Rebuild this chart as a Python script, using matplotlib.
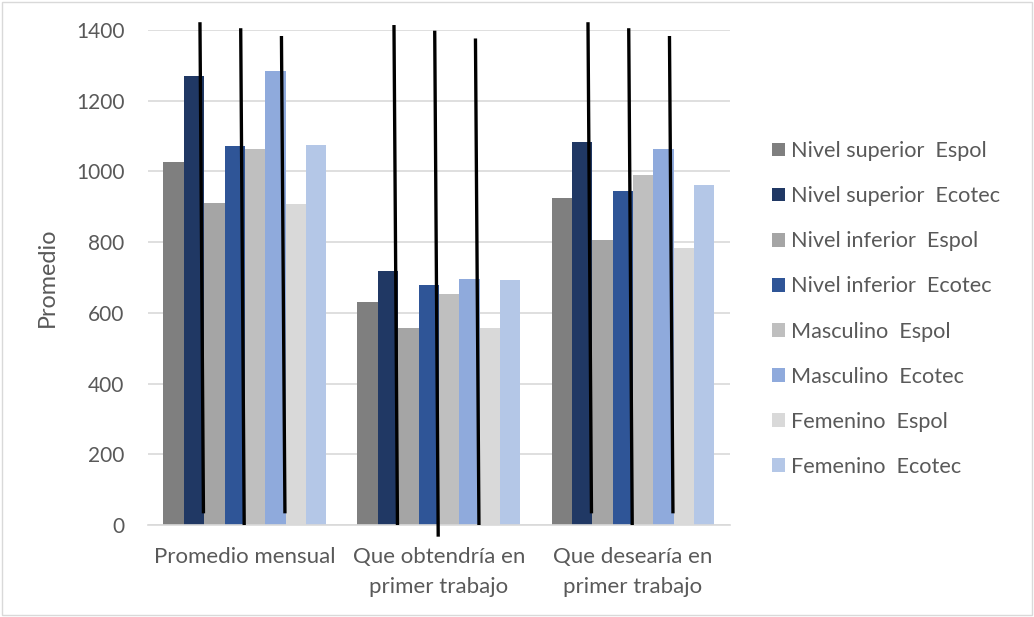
import numpy as np
import matplotlib
matplotlib.use("Agg")
from matplotlib import pyplot as plt
from matplotlib.patches import Rectangle

plt.rcParams['font.family'] = ['Lato', 'DejaVu Sans']

categories = ["Promedio mensual", "Que obtendría en\nprimer trabajo", "Que desearía en\nprimer trabajo"]

series_names = ["Nivel superior  Espol", "Nivel superior  Ecotec",
                "Nivel inferior  Espol", "Nivel inferior  Ecotec",
                "Masculino  Espol", "Masculino  Ecotec",
                "Femenino  Espol", "Femenino  Ecotec"]

nivel_sup_espol = [1027, 630, 924]
nivel_sup_ecotec = [1270, 717, 1082]
nivel_inf_espol = [910, 558, 806]
nivel_inf_ecotec = [1072, 678, 944]
masc_espol = [1064, 652, 991]
masc_ecotec = [1283, 696, 1064]
fem_espol = [908, 558, 783]
fem_ecotec = [1075, 693, 962]

colors = ["#7f7f7f", "#203864", "#a5a5a5", "#2f5597",
          "#bfbfbf", "#8faadc", "#d9d9d9", "#b4c7e7"]

# black strokes drawn over the chart (top value, bottom value per stroke)
stroke_top = [[1422, 1405, 1383], [1414, 1398, 1376], [1422, 1405, 1383]]
stroke_bottom = [[33, 0, 33], [0, -33, 0], [33, 0, 33]]

all_series = [nivel_sup_espol, nivel_sup_ecotec, nivel_inf_espol, nivel_inf_ecotec,
              masc_espol, masc_ecotec, fem_espol, fem_ecotec]

txt = "#595959"
fig = plt.figure(figsize=(10.34, 6.17), dpi=100)
ax = fig.add_axes([0.1431, 0.1491, 0.5629, 0.8023])

x = np.arange(len(categories))
w = 0.84 / 8
for i, (vals, name, c) in enumerate(zip(all_series, series_names, colors)):
    ax.bar(x - 0.42 + w * (i + 0.5), vals, width=w, color=c, label=name, zorder=2)

# strokes sit near the right edge of each Ecotec bar, slightly tilted
for g in range(len(categories)):
    for k, bi in enumerate([1, 3, 5]):
        right = x[g] - 0.42 + w * (bi + 1)
        ax.plot([right - 0.022, right - 0.004], [stroke_top[g][k], stroke_bottom[g][k]],
                color="black", lw=2.4, zorder=4, clip_on=False, solid_capstyle="butt")

ax.set_xlim(-0.5, 2.5)
ax.set_ylim(0, 1400)
ax.set_yticks(range(0, 1401, 200))
ax.set_xticks(x)
ax.set_xticklabels(categories, fontsize=16, color=txt, linespacing=1.62)
ax.tick_params(axis='y', length=0, pad=17, labelsize=15, labelcolor=txt)
ax.tick_params(axis='x', length=0, pad=16)
ax.grid(axis='y', color="#d9d9d9", lw=1.2, zorder=0)
for s in ["top", "right", "left"]:
    ax.spines[s].set_visible(False)
ax.spines["bottom"].set_color("#d9d9d9")
ax.spines["bottom"].set_linewidth(1.2)
ax.set_ylabel("Promedio", fontsize=16.8, color=txt, labelpad=13)

leg = ax.legend(loc="upper left", bbox_to_anchor=(1.038, 0.815), frameon=False,
                fontsize=15.6, labelcolor=txt, handlelength=0.6, handleheight=0.6,
                handletextpad=0.28, labelspacing=1.16)

fig.patches.append(Rectangle((0.002, 0.004), 0.996, 0.992, transform=fig.transFigure,
                             fill=False, edgecolor="#d9d9d9", lw=1))

fig.savefig("out.png", dpi=100)
